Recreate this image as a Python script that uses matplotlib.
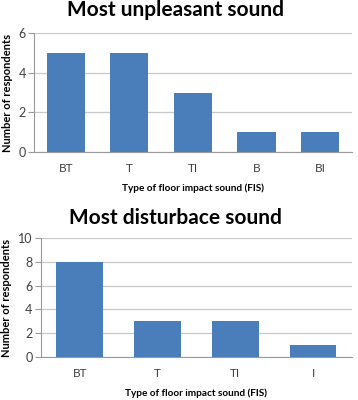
import matplotlib
matplotlib.use("Agg")
import matplotlib.pyplot as plt

top_title = "Most unpleasant sound"
top_categories = ["BT", "T", "TI", "B", "BI"]
top_values = [5, 5, 3, 1, 1]
top_yticks = [0, 2, 4, 6]

bottom_title = "Most disturbace sound"
bottom_categories = ["BT", "T", "TI", "I"]
bottom_values = [8, 3, 3, 1]
bottom_yticks = [0, 2, 4, 6, 8, 10]

xlabel = "Type of floor impact sound (FIS)"
ylabel = "Number of respondents"

plt.rcParams['font.family'] = ['Lato', 'DejaVu Sans']

bar_color = "#4a7ebb"
grid_color = "#c8c8c8"
spine_color = "#9a9a9a"
tick_color = "#404040"

fig = plt.figure(figsize=(3.58, 4.0), dpi=100)

def draw(ax, title, cats, vals, yticks, title_y):
    x = list(range(len(cats)))
    ax.bar(x, vals, width=0.6, color=bar_color, zorder=3)
    ax.set_xlim(-0.5, len(cats) - 0.5)
    ax.set_ylim(yticks[0], yticks[-1])
    ax.set_yticks(yticks)
    ax.set_xticks(x)
    ax.set_xticklabels(cats)
    ax.yaxis.grid(True, color=grid_color, linewidth=0.9, zorder=0)
    for s in ["top", "right"]:
        ax.spines[s].set_visible(False)
    ax.spines["left"].set_color(spine_color)
    ax.spines["bottom"].set_color(spine_color)
    ax.tick_params(axis="y", length=4, color=spine_color, labelsize=9, labelcolor=tick_color, pad=2)
    ax.tick_params(axis="x", length=0, labelsize=8.5, labelcolor=tick_color, pad=8)
    ax.set_xlabel(xlabel, fontsize=7.2, fontweight="bold", labelpad=7)
    ax.set_ylabel(ylabel, fontsize=8, fontweight="bold", labelpad=4)
    fig.text(0.49, title_y, title, ha="center", va="center", fontsize=15, fontweight="bold")

ax1 = fig.add_axes([0.095, 0.62, 0.888, 0.2975])
draw(ax1, top_title, top_categories, top_values, top_yticks, 0.975)
ax2 = fig.add_axes([0.114, 0.1075, 0.869, 0.2975])
draw(ax2, bottom_title, bottom_categories, bottom_values, bottom_yticks, 0.455)

fig.savefig("out.png", dpi=100)
